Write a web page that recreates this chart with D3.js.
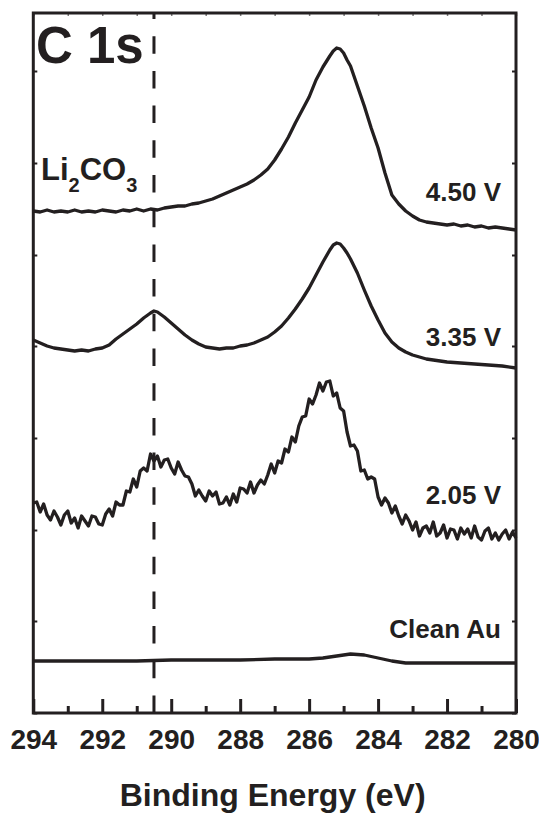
<!DOCTYPE html>
<html>
<head>
<meta charset="utf-8">
<script src="https://cdn.jsdelivr.net/npm/d3@7"></script>
<style>
  html, body { margin: 0; padding: 0; background: #fff; }
  text { font-family: "Liberation Sans", Arial, sans-serif; font-weight: bold; fill: #231f20; }
</style>
</head>
<body>
<div id="chart"></div>
<script>
// C 1s XPS spectra, binding energy (eV) vs intensity (offset, a.u.)
const xTicksMajor = [294, 292, 290, 288, 286, 284, 282, 280];
const xTicksMinor = [293, 291, 289, 287, 285, 283, 281];
const yTicks = [0, 92, 183, 275, 367, 458, 550, 642];
const li2co3Energy = 290.5;

const spec450 = [
  [294.0,502],[293.8,501],[293.6,503],[293.4,501],[293.2,502],[293.0,501],[292.8,503],[292.6,501],
  [292.4,502],[292.2,501],[292.0,503],[291.8,502],[291.6,501],[291.4,503],[291.2,502],[291.0,504],
  [290.8,502],[290.6,504],[290.4,503],[290.2,505],[290.0,506],[289.8,507],[289.6,507],[289.4,509],
  [289.2,510],[289.0,512],[288.8,514],[288.6,517],[288.4,520],[288.2,523],[288.0,526],[287.8,529],
  [287.6,533],[287.4,538],[287.2,544],[287.0,553],[286.8,564],[286.6,576],[286.4,590],[286.2,603],
  [286.0,616],[285.8,633],[285.6,646],[285.4,657],[285.3,662],[285.2,665],[285.1,664],[285.0,660],
  [284.9,653],[284.8,647],[284.6,627],[284.4,607],[284.2,585],[284.0,565],[283.8,540],[283.6,518],
  [283.4,509],[283.2,502],[283.0,497],[282.8,493],[282.6,491],[282.4,490],[282.2,489],[282.0,488],
  [281.8,489],[281.6,487],[281.4,488],[281.2,486],[281.0,487],[280.8,485],[280.6,486],[280.4,485],
  [280.2,484],[280.0,483]
];

const spec335 = [
  [294.0,373],[293.8,370],[293.6,367],[293.4,365],[293.2,364],[293.0,363],[292.8,362],[292.6,363],
  [292.4,362],[292.2,364],[292.0,365],[291.8,368],[291.6,374],[291.4,379],[291.2,384],[291.0,389],
  [290.8,395],[290.6,400],[290.5,402],[290.4,401],[290.2,396],[290.0,390],[289.8,384],[289.6,378],
  [289.4,373],[289.2,369],[289.0,366],[288.8,365],[288.6,364],[288.4,365],[288.2,365],[288.0,367],
  [287.8,368],[287.6,370],[287.4,373],[287.2,376],[287.0,381],[286.8,387],[286.6,395],[286.4,404],
  [286.2,414],[286.0,425],[285.8,438],[285.6,451],[285.4,463],[285.3,468],[285.2,470],[285.1,469],
  [285.0,465],[284.9,460],[284.8,454],[284.6,440],[284.4,423],[284.2,407],[284.0,393],[283.8,380],
  [283.6,371],[283.4,365],[283.2,361],[283.0,358],[282.8,356],[282.6,354],[282.4,353],[282.2,352],
  [282.0,351],[281.6,350],[281.2,349],[280.8,348],[280.4,347],[280.0,345]
];

const spec205 = [
  [294.0,210],[293.9,211],[293.8,201],[293.7,209],[293.6,198],[293.5,193],[293.4,202],[293.3,196],
  [293.2,188],[293.1,198],[293.0,202],[292.9,190],[292.8,195],[292.7,185],[292.6,197],[292.5,192],
  [292.4,187],[292.3,197],[292.2,196],[292.1,189],[292.0,188],[291.9,199],[291.8,204],[291.7,197],
  [291.6,211],[291.5,208],[291.4,208],[291.3,222],[291.2,221],[291.1,234],[291.0,226],[290.9,242],
  [290.8,245],[290.7,242],[290.6,259],[290.5,252],[290.4,257],[290.3,246],[290.2,253],[290.1,254],
  [290.0,245],[289.9,239],[289.8,251],[289.7,243],[289.6,237],[289.5,236],[289.4,229],[289.3,217],
  [289.2,223],[289.1,217],[289.0,212],[288.9,222],[288.8,217],[288.7,221],[288.6,209],[288.5,210],
  [288.4,216],[288.3,208],[288.2,219],[288.1,211],[288.0,225],[287.9,224],[287.8,220],[287.7,231],
  [287.6,220],[287.5,228],[287.4,233],[287.3,229],[287.2,238],[287.1,249],[287.0,240],[286.9,252],
  [286.8,250],[286.7,264],[286.6,261],[286.5,276],[286.4,271],[286.3,287],[286.2,296],[286.1,297],
  [286.0,314],[285.9,309],[285.8,318],[285.7,330],[285.6,322],[285.5,331],[285.4,332],[285.3,317],
  [285.2,320],[285.1,305],[285.0,302],[284.9,281],[284.8,267],[284.7,268],[284.6,262],[284.5,242],
  [284.4,243],[284.3,234],[284.2,236],[284.1,234],[284.0,216],[283.9,208],[283.8,215],[283.7,210],
  [283.6,200],[283.5,207],[283.4,197],[283.3,189],[283.2,198],[283.1,192],[283.0,183],[282.9,191],
  [282.8,177],[282.7,185],[282.6,187],[282.5,180],[282.4,191],[282.3,177],[282.2,180],[282.1,188],
  [282.0,175],[281.9,184],[281.8,183],[281.7,174],[281.6,185],[281.5,179],[281.4,184],[281.3,175],
  [281.2,187],[281.1,176],[281.0,173],[280.9,182],[280.8,185],[280.7,174],[280.6,180],[280.5,173],
  [280.4,179],[280.3,183],[280.2,174],[280.1,181],[280.0,175]
];

const specAu = [
  [294.0,52],[293.0,52],[292.0,52],[291.0,52],[290.0,53],[289.0,53],[288.0,53],[287.0,54],
  [286.0,54],[285.6,55],[285.2,57],[284.8,59],[284.4,58],[284.0,55],[283.6,52],[283.2,50],
  [282.6,50],[282.0,50],[281.0,50],[280.0,50]
];

const seriesLabels = ["4.50 V", "3.35 V", "2.05 V", "Clean Au"];

const width = 539, height = 813;
const margin = {top: 13, right: 23, bottom: 100, left: 33.3};

const svg = d3.select("#chart").append("svg")
    .attr("width", width)
    .attr("height", height);

const x = d3.scaleLinear()
    .domain([294, 280])
    .range([margin.left, width - margin.right]);

const y = d3.scaleLinear()
    .domain([0, 700])
    .range([height - margin.bottom, margin.top]);

const ink = "#231f20";

// dashed Li2CO3 marker, dash pattern starts from the bottom axis
svg.append("line")
    .attr("x1", x(li2co3Energy)).attr("x2", x(li2co3Energy))
    .attr("y1", y(0)).attr("y2", y(700))
    .attr("stroke", ink)
    .attr("stroke-width", 3)
    .attr("stroke-dasharray", "17.5 17.2");

// spectra
const line = d3.line()
    .x(d => x(d[0]))
    .y(d => y(d[1]));

[spec450, spec335, spec205, specAu].forEach(s => {
    svg.append("path")
        .datum(s)
        .attr("d", line)
        .attr("fill", "none")
        .attr("stroke", ink)
        .attr("stroke-width", 3.3)
        .attr("stroke-linejoin", "round");
});

// bottom axis, ticks point inward
const xAxis = svg.append("g")
    .attr("transform", `translate(0,${y(0)})`)
    .call(d3.axisBottom(x).tickValues(xTicksMajor).tickSize(-14).tickPadding(16).tickFormat(d3.format("d")));
xAxis.call(g => g.select(".domain").remove());
xAxis.selectAll("line").attr("stroke", ink).attr("stroke-width", 3);
xAxis.selectAll("text").attr("font-size", 28).attr("font-family", null).attr("fill", ink);

svg.append("g")
    .attr("transform", `translate(0,${y(0)})`)
    .call(d3.axisBottom(x).tickValues(xTicksMinor).tickSize(-7).tickFormat(""))
    .call(g => g.select(".domain").remove())
    .selectAll("line").attr("stroke", ink).attr("stroke-width", 3);

// tiny ticks on the top, left and right edges
svg.append("g")
    .attr("transform", `translate(0,${y(700)})`)
    .call(d3.axisTop(x).tickValues(xTicksMajor.concat(xTicksMinor)).tickSize(-3).tickFormat(""))
    .call(g => g.select(".domain").remove())
    .selectAll("line").attr("stroke", ink).attr("stroke-width", 1.5).attr("opacity", 0.6);

svg.append("g")
    .attr("transform", `translate(${x(294)},0)`)
    .call(d3.axisLeft(y).tickValues(yTicks).tickSize(-4).tickFormat(""))
    .call(g => g.select(".domain").remove())
    .selectAll("line").attr("stroke", ink).attr("stroke-width", 2);

svg.append("g")
    .attr("transform", `translate(${x(280)},0)`)
    .call(d3.axisRight(y).tickValues(yTicks).tickSize(-4).tickFormat(""))
    .call(g => g.select(".domain").remove())
    .selectAll("line").attr("stroke", ink).attr("stroke-width", 2);

// frame
svg.append("rect")
    .attr("x", x(294)).attr("y", y(700))
    .attr("width", x(280) - x(294)).attr("height", y(0) - y(700))
    .attr("fill", "none")
    .attr("stroke", ink)
    .attr("stroke-width", 3);

// axis title
svg.append("text")
    .attr("x", (x(294) + x(280)) / 2 - 2)
    .attr("y", 806)
    .attr("text-anchor", "middle")
    .attr("font-size", 32)
    .text("Binding Energy (eV)");

// panel label
svg.append("text")
    .attr("x", 36)
    .attr("y", 63)
    .attr("font-size", 51)
    .text("C 1s");

// Li2CO3 label with subscripts
const li = svg.append("text")
    .attr("x", 41)
    .attr("y", 180)
    .attr("font-size", 31);
li.append("tspan").text("Li");
li.append("tspan").attr("font-size", 20).attr("dy", 12).text("2");
li.append("tspan").attr("dy", -12).text("CO");
li.append("tspan").attr("font-size", 20).attr("dy", 12).text("3");

// series labels
const labelBaselines = [201, 346, 504, 638];
seriesLabels.forEach((t, i) => {
    svg.append("text")
        .attr("x", 501)
        .attr("y", labelBaselines[i])
        .attr("text-anchor", "end")
        .attr("font-size", 26)
        .text(t);
});
</script>
</body>
</html>
